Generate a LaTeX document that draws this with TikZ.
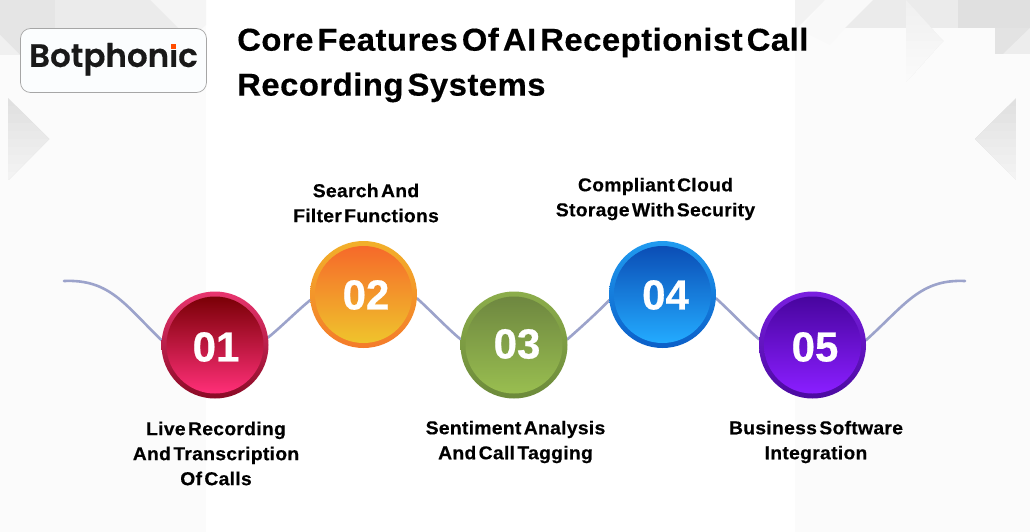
\documentclass[tikz,border=0pt]{standalone}
\usepackage{fontspec}
\setmainfont{Liberation Sans}
\newfontfamily\logofont[FakeBold=0.3]{Poppins SemiBold}
\newfontfamily\capfont[LetterSpace=1.5,WordSpace=0.42,FakeStretch=1.04,BoldFeatures={FakeBold=0.4}]{Liberation Sans}
\newfontfamily\digitfont[BoldFeatures={FakeBold=0.6}]{Liberation Sans}
\pgfdeclarelayer{panel}
\pgfdeclarelayer{links}
\pgfsetlayers{panel,links,main}
\definecolor{wave}{HTML}{9CA3CB}
\definecolor{ra}{HTML}{E8356F}\definecolor{rb}{HTML}{8A0A25}\definecolor{rc}{HTML}{7A0006}\definecolor{rd}{HTML}{FF2F78}
\definecolor{oa}{HTML}{F2B02A}\definecolor{ob}{HTML}{F47B2A}\definecolor{oc}{HTML}{F6692A}\definecolor{od}{HTML}{EFC42C}
\definecolor{ga}{HTML}{8CAD4B}\definecolor{gb}{HTML}{6C8A3A}\definecolor{gc}{HTML}{6E8740}\definecolor{gd}{HTML}{99BE50}
\definecolor{ba}{HTML}{209BF0}\definecolor{bb}{HTML}{0B5FC8}\definecolor{bc}{HTML}{0B4DB5}\definecolor{bd}{HTML}{23ABFF}
\definecolor{pa}{HTML}{7A1FE0}\definecolor{pb}{HTML}{4B0AA0}\definecolor{pc}{HTML}{48059F}\definecolor{pd}{HTML}{8A1EFF}
\definecolor{panelc}{HTML}{FBFBFB}
\definecolor{logobg}{HTML}{FBFDFE}
\tikzset{
  ringbase/.style={circle,minimum size=107pt,inner sep=0pt,outer sep=0pt,draw=none},
  innerbase/.style={circle,minimum size=97pt,inner sep=0pt,outer sep=0pt,draw=none},
  digit/.style={inner sep=0pt,text=white,font=\fontsize{42}{42}\selectfont\digitfont\bfseries},
  caption/.style={align=center,inner sep=0pt,text=black,
    font=\fontsize{18.6}{25}\selectfont\capfont\bfseries},
  titletext/.style={anchor=west,inner sep=0pt,text=black,
    font=\fontsize{31.6}{32}\selectfont\capfont\bfseries},
  wavelink/.style={draw=wave,line width=2.6pt,line cap=round},
}
% x of base, x of tip, top y, first shade, shade step; 82 tall
\newcommand{\softtri}[5]{%
  \begin{scope}
    \clip (#1,#3) -- (#2,{#3+41}) -- (#1,{#3+82}) -- cycle;
    \foreach \k in {0,...,9}{
      \pgfmathsetmacro{\shade}{#4+\k*#5}
      \fill[white!\shade!black] ({min(#1,#2)-1},{#3+\k*8.2}) rectangle ({max(#1,#2)+1},{#3+82});
    }
  \end{scope}}
\begin{document}
\begin{tikzpicture}[x=1pt,y=-1pt]
\useasboundingbox (0,0) rectangle (1030,532);
\begin{pgfonlayer}{panel}
  \fill[white] (0,0) rectangle (1030,532);
  \fill[panelc] (0,0) rectangle (206,532);
  \fill[panelc] (795,0) rectangle (1030,532);
  % left top shapes
  \fill[white!90!black] (0,0) rectangle (55,55);
  \fill[white!94!black] (0,55) -- (20,55) -- (0,35) -- cycle;
  \fill[white!96!black] (150,0) -- (206,0) -- (206,25) -- (178,50) -- (150,50) -- cycle;
  \fill[white!92!black] (55,0) -- (150,0) -- (178,28) -- (55,28) -- cycle;
  \fill[white!94!black] (55,28) rectangle (150,50);
  \fill[white!98.5!black] (75,93) -- (125,93) -- (100,125) -- cycle;
  \softtri{8}{49}{98}{88}{0.8}
  % right top shapes
  \fill[white!95!black] (795,0) -- (825,0) -- (795,30) -- cycle;
  \fill[white!97.5!black] (825,0) -- (873,0) -- (845,28) -- (830,45) -- (800,30) -- cycle;
  \fill[white!92!black] (873,0) -- (958,0) -- (958,28) -- (845,28) -- cycle;
  \fill[white!88!black] (958,0) rectangle (1030,28);
  \fill[white!89!black] (995,28) rectangle (1030,54);
  \fill[white!93!black] (1003,54) -- (1030,28) -- (1030,54) -- cycle;
  \softtri{906}{943}{0}{94}{0.45}
  \softtri{1016}{975}{98}{88}{0.8}
\end{pgfonlayer}

% logo
\node[draw=black!35,fill=logobg,rounded corners=10pt,line width=0.7pt,minimum width=186pt,minimum height=64pt,inner sep=0pt]
  (logo) at (113.5,60.5) {};
\node[anchor=center,inner sep=0pt,text=black!90,font=\fontsize{32.5}{32.5}\selectfont\logofont] (logotext) at (113.5,58.5) {Botphonic};
\fill[logobg] (168,37) rectangle (178,49.6);
\fill[orange!60!red] (170.5,44) rectangle (175.8,49.3);

% title
\node[titletext] (t1) at (237,42.5) {Core Features Of AI Receptionist Call};
\node[titletext] (t2) at (237,87.5) {Recording Systems};

% circles
\node[ringbase,top color=ra,bottom color=rb] (r1) at (215,345) {};
\node[innerbase,top color=rc,bottom color=rd] (c1) at (215,345) {};
\node[digit] (d1) at (216,347) {01};
\node[ringbase,top color=oa,bottom color=ob] (r2) at (363.5,294.5) {};
\node[innerbase,top color=oc,bottom color=od] (c2) at (363.5,294.5) {};
\node[digit] (d2) at (366,295) {02};
\node[ringbase,top color=ga,bottom color=gb] (r3) at (514,345) {};
\node[innerbase,top color=gc,bottom color=gd] (c3) at (514,345) {};
\node[digit] (d3) at (517,344) {03};
\node[ringbase,top color=ba,bottom color=bb] (r4) at (662.5,294.5) {};
\node[innerbase,top color=bc,bottom color=bd] (c4) at (662.5,294.5) {};
\node[digit] (d4) at (665.5,295) {04};
\node[ringbase,top color=pa,bottom color=pb] (r5) at (812.5,345) {};
\node[innerbase,top color=pc,bottom color=pd] (c5) at (812.5,345) {};
\node[digit] (d5) at (815,347) {05};

% connectors
\coordinate (wl) at (64,281);
\coordinate (wr) at (965,281);
\begin{pgfonlayer}{links}
  \draw[wavelink] (wl) .. controls (110,279) and (125,305) .. (r1.175);
  \draw[wavelink] (r1.8) .. controls (280,328) and (298,310) .. (r2.186);
  \draw[wavelink] (r2.356) .. controls (428,308) and (449,330) .. (r3.174);
  \draw[wavelink] (r3.6) .. controls (578,330) and (598,312) .. (r4.186);
  \draw[wavelink] (r4.356) .. controls (727,308) and (748,330) .. (r5.174);
  \draw[wavelink] (r5.5) .. controls (905,305) and (920,279) .. (wr);
\end{pgfonlayer}

% captions
\node[caption] (l1) at (216,453.5) {Live Recording\\And Transcription\\Of Calls};
\node[caption] (l2) at (366,203) {Search And\\Filter Functions};
\node[caption] (l3) at (515.5,442) {Sentiment Analysis\\And Call Tagging};
\node[caption] (l4) at (655.5,199) {Compliant Cloud\\Storage With Security};
\node[caption] (l5) at (816,442) {Business Software\\Integration};
\end{tikzpicture}
\end{document}
